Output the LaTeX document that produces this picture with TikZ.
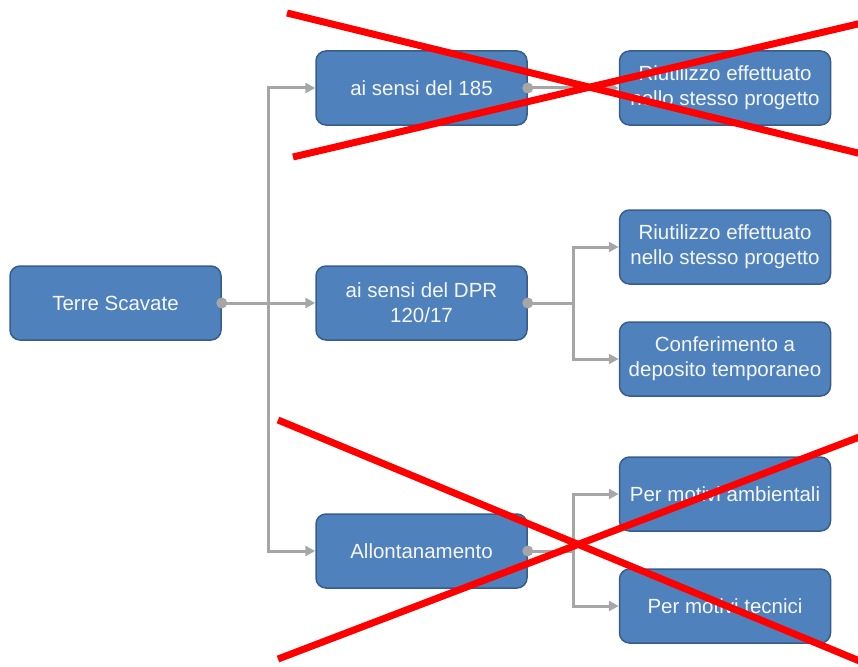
\documentclass[tikz,border=0pt]{standalone}
\usepackage{fontspec}
\setmainfont{Liberation Sans}
\usetikzlibrary{arrows.meta}
\definecolor{boxfill}{RGB}{79,129,189}
\definecolor{boxline}{RGB}{56,93,138}
\definecolor{conn}{RGB}{166,166,166}
\definecolor{crossred}{RGB}{255,0,0}
\definecolor{boxtext}{RGB}{245,247,252}
\tikzset{
  box/.style={draw=boxline, line width=1.5pt, fill=boxfill, rounded corners=10pt,
    minimum width=211pt, minimum height=74pt, text=boxtext, align=center,
    font=\fontsize{20.5}{25}\selectfont, inner sep=2pt},
  connline/.style={draw=conn, line width=3pt},
  connarrow/.style={connline, -{Triangle[length=10pt,width=10pt]}},
  jdot/.style={circle, fill=conn, inner sep=0pt, minimum size=11pt},
  crossline/.style={draw=crossred, line width=7pt}
}
\begin{document}
\begin{tikzpicture}[x=1pt,y=-1pt]
\useasboundingbox (0,0) rectangle (858,666);
% boxes
\node[box] (terre) at (115.5,303) {Terre Scavate};
\node[box] (a185) at (421.5,88) {ai sensi del 185};
\node[box] (dpr) at (421.5,303) {ai sensi del DPR\\120/17};
\node[box] (allo) at (421.5,551) {Allontanamento};
\node[box] (r1) at (725,88) {Riutilizzo effettuato\\nello stesso progetto};
\node[box] (r2) at (725,247) {Riutilizzo effettuato\\nello stesso progetto};
\node[box] (conf) at (725,359) {Conferimento a\\deposito temporaneo};
\node[box] (amb) at (725,494) {Per motivi ambientali};
\node[box] (tec) at (725,606) {Per motivi tecnici};
% junction coordinates
\coordinate (j1) at (268,303);
\coordinate (j2) at (573,303);
\coordinate (j3) at (573,551);
% connectors
\draw[connline] (terre.east) -- (j1);
\draw[connarrow] (j1) -- (dpr.west);
\draw[connarrow] (j1) |- (a185.west);
\draw[connarrow] (j1) |- (allo.west);
\draw[connarrow] (a185.east) -- (r1.west);
\draw[connline] (dpr.east) -- (j2);
\draw[connarrow] (j2) |- (r2.west);
\draw[connarrow] (j2) |- (conf.west);
\draw[connline] (allo.east) -- (j3);
\draw[connarrow] (j3) |- (amb.west);
\draw[connarrow] (j3) |- (tec.west);
% dots
\node[jdot] (d1) at (terre.east) {};
\node[jdot] (d2) at (a185.east) {};
\node[jdot] (d3) at (dpr.east) {};
\node[jdot] (d4) at (allo.east) {};
% red crosses
\begin{scope}
\clip (0,0) rectangle (858,666);
\coordinate (c1a) at (287,13);
\coordinate (c1b) at (862,154);
\coordinate (c2a) at (293,157);
\coordinate (c2b) at (862,23);
\coordinate (c3a) at (278,420);
\coordinate (c3b) at (862,662);
\coordinate (c4a) at (278,659);
\coordinate (c4b) at (862,436);
\draw[crossline] (c1a) -- (c1b);
\draw[crossline] (c2a) -- (c2b);
\draw[crossline] (c3a) -- (c3b);
\draw[crossline] (c4a) -- (c4b);
\end{scope}
\end{tikzpicture}
\end{document}
